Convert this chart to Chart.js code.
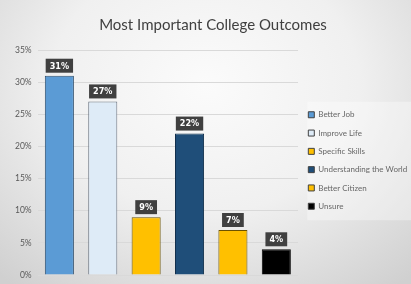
<!DOCTYPE html>
<html>
<head>
<meta charset="utf-8">
<script src="https://cdn.jsdelivr.net/npm/chart.js@4"></script>
<style>
    html, body { margin: 0; padding: 0; }
    body {
        width: 411px;
        height: 284px;
        overflow: hidden;
        background: radial-gradient(ellipse 75% 90% at 50% 30%, #fbfbfb 0%, #f0f0f0 50%, #d0d0d0 100%);
    }
    #wrap { position: relative; width: 411px; height: 284px; }
</style>
</head>
<body>
<div id="wrap"><canvas id="outcomesChart" width="411" height="284"></canvas></div>
<script>
const categories = ["Better Job", "Improve Life", "Specific Skills", "Understanding the World", "Better Citizen", "Unsure"];
const shares = [31, 27, 9, 22, 7, 4];
const yTicks = [0, 5, 10, 15, 20, 25, 30, 35];

const fillColors = ["#5b9bd5", "#deebf7", "#ffc000", "#1f4e79", "#ffc000", "#000000"];
const edgeColors = ["#2e4f6e", "#6a7480", "#6b5200", "#13304c", "#6b5200", "#000000"];

const smallFont = "Lato, 'Open Sans', sans-serif";

// light panel behind the legend items
const legendPanel = {
    id: "legendPanel",
    beforeDraw(chart) {
        const boxes = chart.legend && chart.legend.legendHitBoxes;
        if (!boxes || !boxes.length) return;
        const first = boxes[0];
        const last = boxes[boxes.length - 1];
        const ctx = chart.ctx;
        ctx.save();
        ctx.fillStyle = "rgba(255,255,255,0.35)";
        const top = first.top - 9;
        ctx.fillRect(first.left - 1, top, chart.width - first.left + 1, last.top + last.height + 10 - top);
        ctx.restore();
    }
};

// dark value tags above each bar
const valueTags = {
    id: "valueTags",
    afterDatasetsDraw(chart) {
        const ctx = chart.ctx;
        const meta = chart.getDatasetMeta(0);
        ctx.save();
        ctx.font = "bold 9px 'DejaVu Sans Condensed', 'Liberation Sans', sans-serif";
        ctx.textAlign = "center";
        ctx.textBaseline = "middle";
        meta.data.forEach((bar, i) => {
            const text = shares[i] + "%";
            const w = ctx.measureText(text).width + 8;
            const h = 14;
            const x = bar.x - w / 2;
            const y = bar.y - 3 - h;
            ctx.fillStyle = "#404040";
            ctx.fillRect(x, y, w, h);
            ctx.fillStyle = "#ffffff";
            ctx.fillText(text, bar.x, y + h / 2 + 0.5);
        });
        ctx.restore();
    }
};

const ctx = document.getElementById("outcomesChart").getContext("2d");

new Chart(ctx, {
    type: "bar",
    data: {
        labels: categories,
        datasets: [{
            label: "Share",
            data: shares,
            backgroundColor: fillColors,
            borderColor: edgeColors,
            borderWidth: 1,
            barPercentage: 0.67,
            categoryPercentage: 1
        }]
    },
    options: {
        responsive: false,
        animation: false,
        layout: { padding: { left: 15, right: 0, top: 0, bottom: 9 } },
        plugins: {
            title: {
                display: true,
                text: "Most Important College Outcomes",
                color: "#404040",
                font: { family: "Lato, 'Open Sans', sans-serif", size: 15, weight: "normal" },
                padding: { top: 16, bottom: 16 }
            },
            legend: {
                position: "right",
                maxWidth: 113,
                title: {
                    display: true,
                    text: " ",
                    font: { size: 10 },
                    padding: { top: 34, bottom: 0 }
                },
                labels: {
                    boxWidth: 6,
                    boxHeight: 6,
                    padding: 10.3,
                    color: "#404040",
                    font: { family: smallFont, size: 8 },
                    generateLabels(chart) {
                        return categories.map((name, i) => ({
                            text: name,
                            fillStyle: fillColors[i],
                            strokeStyle: "#404040",
                            lineWidth: 1,
                            index: i,
                            datasetIndex: 0
                        }));
                    }
                }
            },
            tooltip: { enabled: false }
        },
        scales: {
            x: {
                display: false
            },
            y: {
                min: 0,
                max: 35,
                afterBuildTicks(scale) {
                    scale.ticks = yTicks.map(v => ({ value: v }));
                },
                ticks: {
                    callback: v => v + "%",
                    color: "#595959",
                    padding: 0,
                    font: { family: smallFont, size: 8.5 }
                },
                grid: { color: "#d9d9d9", drawTicks: true, tickLength: 6, tickColor: "rgba(0,0,0,0)" },
                border: { display: false }
            }
        }
    },
    plugins: [legendPanel, valueTags]
});
</script>
</body>
</html>
